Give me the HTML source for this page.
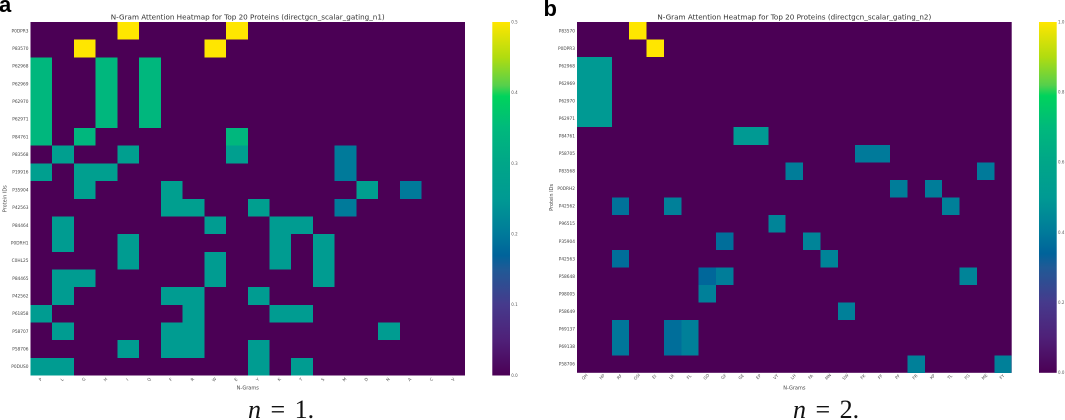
<!DOCTYPE html>
<html>
<head>
<meta charset="utf-8">
<style>
html,body{margin:0;padding:0;background:#fff;width:1065px;height:420px;overflow:hidden}
svg{display:block}
text{font-family:"DejaVu Sans","Liberation Sans",sans-serif}
</style>
</head>
<body>
<svg id="fig" width="1065" height="420" viewBox="0 0 1065 420" xmlns="http://www.w3.org/2000/svg"></svg>
<script>
const proteinsA = ["P0DPR3","P83570","P62968","P62969","P62970","P62971","P84761","P83568","P19916","P35904","P42563","P84464","P0DRH1","C0HL25","P84465","P42562","P61858","P58707","P58706","P0DUS0"];
const ngramsA = ["P","L","G","H","I","Q","F","R","W","E","Y","K","T","S","M","D","N","A","C","V"];
const valuesA = [
[0,0,0,0,.5,0,0,0,0,.5,0,0,0,0,0,0,0,0,0,0],
[0,0,.5,0,0,0,0,0,.5,0,0,0,0,0,0,0,0,0,0,0],
[.345,0,0,.345,0,.345,0,0,0,0,0,0,0,0,0,0,0,0,0,0],
[.345,0,0,.345,0,.345,0,0,0,0,0,0,0,0,0,0,0,0,0,0],
[.345,0,0,.345,0,.345,0,0,0,0,0,0,0,0,0,0,0,0,0,0],
[.345,0,0,.345,0,.345,0,0,0,0,0,0,0,0,0,0,0,0,0,0],
[.345,0,.345,0,0,0,0,0,0,.345,0,0,0,0,0,0,0,0,0,0],
[0,.27,0,0,.27,0,0,0,0,.27,0,0,0,0,.2,0,0,0,0,0],
[.27,0,.27,.27,0,0,0,0,0,0,0,0,0,0,.2,0,0,0,0,0],
[0,0,.27,0,0,0,.27,0,0,0,0,0,0,0,0,.27,0,.2,0,0],
[0,0,0,0,0,0,.27,.27,0,0,.27,0,0,0,.2,0,0,0,0,0],
[0,.26,0,0,0,0,0,0,.26,0,0,.26,.26,0,0,0,0,0,0,0],
[0,.26,0,0,.26,0,0,0,0,0,0,.26,0,.26,0,0,0,0,0,0],
[0,0,0,0,.26,0,0,0,.26,0,0,.26,0,.26,0,0,0,0,0,0],
[0,.26,.26,0,0,0,0,0,.26,0,0,0,0,.26,0,0,0,0,0,0],
[0,.26,0,0,0,0,.26,.26,0,0,.26,0,0,0,0,0,0,0,0,0],
[.26,0,0,0,0,0,0,.26,0,0,0,.26,.26,0,0,0,0,0,0,0],
[0,.26,0,0,0,0,.26,.26,0,0,0,0,0,0,0,0,.26,0,0,0],
[0,0,0,0,.26,0,.26,.26,0,0,.26,0,0,0,0,0,0,0,0,0],
[.26,.26,0,0,0,0,0,0,0,0,.26,0,.26,0,0,0,0,0,0,0]
];
const proteinsB = ["P83570","P0DPR3","P62968","P62969","P62970","P62971","P84761","P58705","P83568","P0DRH2","P42562","P96515","P35904","P42563","P58648","P98005","P58649","P69137","P69138","P58706"];
const ngramsB = ["QH","HP","RF","GSI","EI","LR","FL","GD","GF","GE","EP","VT","LH","FA","MN","SW","FK","FF","PF","FR","KP","TL","FG","ME","FY"];
const valuesB = [
[0,0,0,1,0,0,0,0,0,0,0,0,0,0,0,0,0,0,0,0,0,0,0,0,0],
[0,0,0,0,1,0,0,0,0,0,0,0,0,0,0,0,0,0,0,0,0,0,0,0,0],
[.5,.5,0,0,0,0,0,0,0,0,0,0,0,0,0,0,0,0,0,0,0,0,0,0,0],
[.5,.5,0,0,0,0,0,0,0,0,0,0,0,0,0,0,0,0,0,0,0,0,0,0,0],
[.5,.5,0,0,0,0,0,0,0,0,0,0,0,0,0,0,0,0,0,0,0,0,0,0,0],
[.5,.5,0,0,0,0,0,0,0,0,0,0,0,0,0,0,0,0,0,0,0,0,0,0,0],
[0,0,0,0,0,0,0,0,0,.5,.5,0,0,0,0,0,0,0,0,0,0,0,0,0,0],
[0,0,0,0,0,0,0,0,0,0,0,0,0,0,0,0,.4,.4,0,0,0,0,0,0,0],
[0,0,0,0,0,0,0,0,0,0,0,0,.41,0,0,0,0,0,0,0,0,0,0,.4,0],
[0,0,0,0,0,0,0,0,0,0,0,0,0,0,0,0,0,0,.41,0,.41,0,0,0,0],
[0,0,.38,0,0,.42,0,0,0,0,0,0,0,0,0,0,0,0,0,0,0,.42,0,0,0],
[0,0,0,0,0,0,0,0,0,0,0,.43,0,0,0,0,0,0,0,0,0,0,0,0,0],
[0,0,0,0,0,0,0,0,.37,0,0,0,0,.43,0,0,0,0,0,0,0,0,0,0,0],
[0,0,.37,0,0,0,0,0,0,0,0,0,0,0,.43,0,0,0,0,0,0,0,0,0,0],
[0,0,0,0,0,0,0,.35,.41,0,0,0,0,0,0,0,0,0,0,0,0,0,.43,0,0],
[0,0,0,0,0,0,0,.42,0,0,0,0,0,0,0,0,0,0,0,0,0,0,0,0,0],
[0,0,0,0,0,0,0,0,0,0,0,0,0,0,0,.42,0,0,0,0,0,0,0,0,0],
[0,0,.39,0,0,.37,.42,0,0,0,0,0,0,0,0,0,0,0,0,0,0,0,0,0,0],
[0,0,.39,0,0,.37,.42,0,0,0,0,0,0,0,0,0,0,0,0,0,0,0,0,0,0],
[0,0,0,0,0,0,0,0,0,0,0,0,0,0,0,0,0,0,0,.42,0,0,0,0,.42]
];
const colorTicksA = [0,0.1,0.2,0.3,0.4,0.5];
const colorTicksB = [0,0.2,0.4,0.6,0.8,1];

const svg = document.getElementById('fig');
const NS = 'http://www.w3.org/2000/svg';
const cmap = [[0,'#4b0055'],[.1,'#4f2078'],[.2,'#463a8c'],[.3,'#205a96'],[.34,'#00639a'],[.4,'#007a9a'],[.5,'#009a93'],[.6,'#00a688'],[.7,'#00b97c'],[.79,'#00d35c'],[.82,'#55d04c'],[.9,'#b0dc10'],[1,'#ffe600']];
function hex(c){return [1,3,5].map(i=>parseInt(c.slice(i,i+2),16));}
function colorAt(t){
  t=Math.max(0,Math.min(1,t));
  for(let i=1;i<cmap.length;i++){
    if(t<=cmap[i][0]){
      const a=cmap[i-1],b=cmap[i],f=(t-a[0])/(b[0]-a[0]),x=hex(a[1]),y=hex(b[1]);
      return 'rgb('+x.map((v,k)=>Math.round(v+(y[k]-v)*f)).join(',')+')';
    }
  }
  return cmap[cmap.length-1][1];
}
function mk(tag,attrs,parent,txt){
  const el=document.createElementNS(NS,tag);
  for(const k in attrs) el.setAttribute(k,attrs[k]);
  if(txt!==undefined) el.textContent=txt;
  (parent||svg).appendChild(el);
  return el;
}
const defs=mk('defs',{});
const grad=mk('linearGradient',{id:'cbgrad',x1:0,y1:1,x2:0,y2:0},defs);
cmap.forEach(s=>mk('stop',{offset:s[0],'stop-color':s[1]},grad));

function panel(cfg){
  const g=mk('g',{});
  
  
  const w=cfg.x1-cfg.x0,h=cfg.y1-cfg.y0;
  const xScale=i=>cfg.x0+i*w/cfg.cols.length;
  const yScale=i=>cfg.y0+i*h/cfg.rows.length;
  const bg=mk('rect',{x:cfg.x0,y:cfg.y0,width:w,height:h,fill:colorAt(0)},g);
  
  
  cfg.vals.forEach((row,r)=>row.forEach((v,c)=>{
    if(v<=0) return;
    const cell=mk('rect',{x:xScale(c),y:yScale(r),width:xScale(c+1)-xScale(c),height:yScale(r+1)-yScale(r),fill:colorAt(v/cfg.vmax),'shape-rendering':'crispEdges'},g);
    
    
  }));
  cfg.rows.forEach((p,r)=>{
    const t=mk('text',{x:cfg.x0-2,y:yScale(r+.5)+1.5,'text-anchor':'end','font-size':4.3,fill:'#444'},g,p);
    
    
  });
  cfg.cols.forEach((n,c)=>{
    const px=xScale(c+.5),py=cfg.y1+5;
    const t=mk('text',{x:px,y:py,'text-anchor':'middle','font-size':4.2,fill:'#555',transform:'rotate(-45 '+px+' '+py+')'},g,n);
    
    
  });
  const title=mk('text',{x:(cfg.x0+cfg.x1)/2,y:19.7,'text-anchor':'middle','font-size':7.2,fill:'#333'},g,cfg.title);
  
  
  const xl=mk('text',{x:(cfg.x0+cfg.x1)/2,y:389.5,'text-anchor':'middle','font-size':5,fill:'#444'},g,'N-Grams');
  
  
  const yx=cfg.x0-24,yy=(cfg.y0+cfg.y1)/2;
  const yl=mk('text',{x:yx,y:yy,'text-anchor':'middle','font-size':5,fill:'#444',transform:'rotate(-90 '+yx+' '+yy+')'},g,'Protein IDs');
  
  
  const cb=mk('rect',{x:cfg.cbx,y:cfg.y0,width:17.7,height:h,fill:'url(#cbgrad)'},g);
  
  
  cfg.ticks.forEach(v=>{
    const cy=cfg.y1-(v/cfg.vmax)*h;
    const t=mk('text',{x:cfg.cbx+19,y:cy+1.4,'font-size':4,fill:'#555'},g,v.toFixed(1));
    
    
  });
  const letter=mk('text',{x:cfg.lx,y:cfg.ly,'font-size':22,'font-weight':'bold',fill:'#000',style:'font-family:"Liberation Sans",sans-serif'},g,cfg.letter);
  
  
  const cap=mk('text',{x:cfg.capx,y:418,'font-size':26,fill:'#111','word-spacing':'3',style:'font-family:"Liberation Serif",serif'},g);
  
  
  mk('tspan',{'font-style':'italic'},cap,'n');
  mk('tspan',{},cap,' = '+cfg.n+'.');
}
panel({id:'n1',x0:30.5,x1:465,y0:22,y1:375.5,cbx:492.3,rows:proteinsA,cols:ngramsA,vals:valuesA,vmax:.5,ticks:colorTicksA,title:'N-Gram Attention Heatmap for Top 20 Proteins (directgcn_scalar_gating_n1)',letter:'a',lx:-1,ly:12,capx:248,n:1});
panel({id:'n2',x0:577,x1:1011.7,y0:22,y1:372.8,cbx:1039,rows:proteinsB,cols:ngramsB,vals:valuesB,vmax:1,ticks:colorTicksB,title:'N-Gram Attention Heatmap for Top 20 Proteins (directgcn_scalar_gating_n2)',letter:'b',lx:543.5,ly:16,capx:793,n:2});
</script>
</body>
</html>
